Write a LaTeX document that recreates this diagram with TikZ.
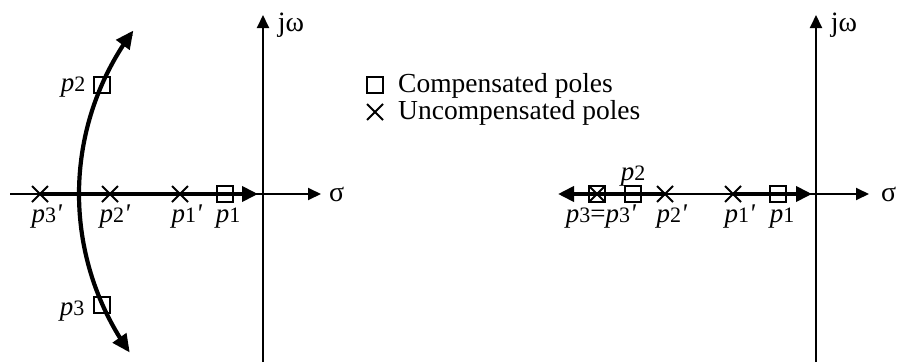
\documentclass[tikz,border=0pt]{standalone}
\usepackage{fontspec}
\setmainfont{Liberation Serif}
\usetikzlibrary{arrows.meta,shapes.misc}
\newcommand\pp[1]{\textit{p}{\fontsize{22}{22}\selectfont #1}}
\newcommand\prm{\textit{\textquotesingle}}
\begin{document}
\begin{tikzpicture}[x=1pt,y=-1pt,
  axis/.style={line width=1.9pt,-{Triangle[length=13pt,width=12pt]}},
  thk/.style={line width=3.8pt,-{Triangle[length=16pt,width=15pt]}},
  thkb/.style={line width=3.8pt,{Triangle[length=16pt,width=15pt]}-},
  arcst/.style={line width=4.2pt,{Triangle[length=18pt,width=16pt]}-{Triangle[length=18pt,width=16pt]}},
  sq/.style={draw,line width=2pt,minimum size=16pt,inner sep=0pt},
  xm/.style={draw,cross out,line width=2pt,minimum size=14pt,inner sep=0pt},
  lab/.style={font=\fontsize{27}{29}\selectfont,inner sep=0pt,anchor=base},
  ax/.style={font=\fontsize{28}{30}\selectfont,inner sep=0pt},
  leg/.style={font=\fontsize{27.5}{30}\selectfont,inner sep=0pt,anchor=base west},
]
\useasboundingbox (0,0) rectangle (897,362);
% ---------- left diagram ----------
\coordinate (Lh0) at (10,194);
\coordinate (Lh1) at (321,194);
\coordinate (Lv0) at (263,362);
\coordinate (Lv1) at (263,15);
\coordinate (LtipR) at (258,194);
\draw[axis] (Lh0) -- (Lh1);
\draw[axis] (Lv0) -- (Lv1);
\node[ax,anchor=west] (Lsig) at (329,194) {σ};
\node[ax] (Ljw) at (291,25) {jω};
\node[xm] (L3p) at (40,194) {};
\node[xm] (L2p) at (110,194) {};
\node[xm] (L1p) at (180,194) {};
\node[sq] (L1) at (225,194) {};
\node[sq] (L2) at (102,85) {};
\node[sq] (L3) at (102,305) {};
\draw[thk] (L3p.center) -- (LtipR);
\draw[arcst] plot[domain=-36.8:35.5,samples=80] ({352-273*cos(\x)},{194+273*sin(\x)});
\node[lab] (lL3p) at (47,222) {\pp{3}\prm};
\node[lab] (lL2p) at (115,222) {\pp{2}\prm};
\node[lab] (lL1p) at (187,222) {\pp{1}\prm};
\node[lab] (lL1) at (228,222) {\pp{1}};
\node[lab] (lL2) at (73,91) {\pp{2}};
\node[lab] (lL3) at (72,315) {\pp{3}};
% ---------- legend ----------
\node[sq] (gsq) at (375,85) {};
\node[xm] (gx) at (375,112) {};
\node[leg] (gt1) at (398,92) {Compensated poles};
\node[leg] (gt2) at (398,119) {Uncompensated poles};
% ---------- right diagram ----------
\coordinate (Rh0) at (570,194);
\coordinate (Rh1) at (869,194);
\coordinate (Rv0) at (816,362);
\coordinate (Rv1) at (816,15);
\coordinate (RtipL) at (558,194);
\coordinate (RtipR) at (812,194);
\draw[axis] (Rh0) -- (Rh1);
\draw[axis] (Rv0) -- (Rv1);
\node[ax,anchor=west] (Rsig) at (881,194) {σ};
\node[ax] (Rjw) at (844,25) {jω};
\node[xm] (R3p) at (597,194) {};
\node[xm] (R2p) at (665,194) {};
\node[xm] (R1p) at (733,194) {};
\node[sq] (R3) at (597,194) {};
\node[sq] (R2) at (633,194) {};
\node[sq] (R1) at (778,194) {};
\draw[thkb] (RtipL) -- (R2p.center);
\draw[thk] (R1p.center) -- (RtipR);
\node[lab] (lR2) at (633,180) {\pp{2}};
\node[lab] (lR3) at (601,222) {\pp{3}=\pp{3}\prm};
\node[lab] (lR2p) at (672,222) {\pp{2}\prm};
\node[lab] (lR1p) at (740,222) {\pp{1}\prm};
\node[lab] (lR1) at (782,222) {\pp{1}};
\end{tikzpicture}
\end{document}
